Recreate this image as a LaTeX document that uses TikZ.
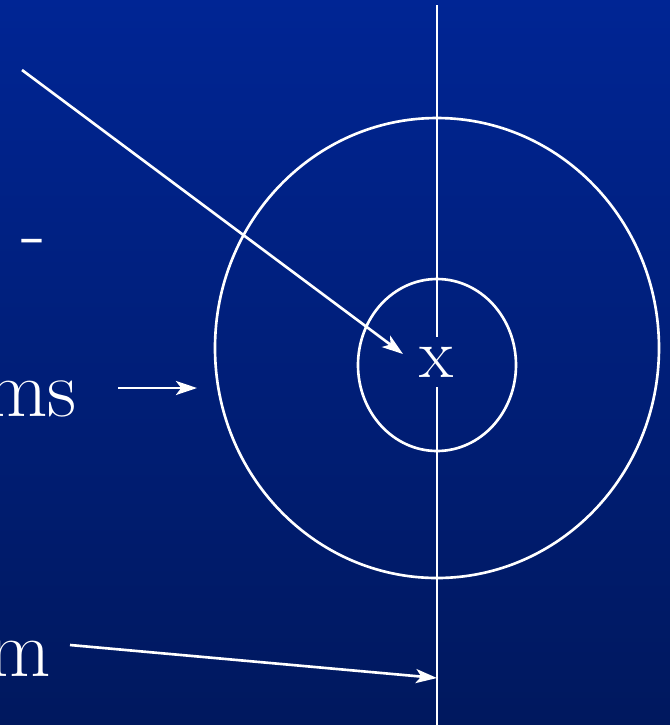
\documentclass[tikz,border=0pt]{standalone}
\usepackage{tikz}
\usetikzlibrary{positioning, arrows.meta}
\definecolor{bgtop}{RGB}{0,37,148}
\definecolor{bgbot}{RGB}{0,24,94}

\begin{document}
\begin{tikzpicture}[
    x=0.02cm, y=-0.02cm,
    line width=1.5pt, white,
    every node/.style={text=white, font=\fontsize{46}{55}\selectfont, inner sep=0pt},
    >={Stealth[length=12pt, width=8pt, inset=3pt]}
]
\useasboundingbox (0,0) rectangle (670,725);
\shade[top color=bgtop, bottom color=bgbot] (0,0) rectangle (670,725);
% left labels, cut off by the page edge
\node (dash) [anchor=base east] at (47,258) {o -};
\node (ms) [anchor=base east] at (78,416) {ms};
\node (m) [anchor=base east] at (52,676) {m};
% centre point and the two rings
\node (cx) [font=\fontsize{40}{48}\selectfont, minimum height=0.96cm] at (437,362) {x};
\draw (437,348) ellipse [x radius=222, y radius=230];
\draw (437,365) ellipse [x radius=79, y radius=86];
% axis through the centre
\coordinate (top) at (437,5);
\coordinate (bottom) at (437,725);
\draw (top) -- (cx.north);
\draw (cx.south) -- (bottom);
% pointers
\coordinate (a1) at (22,70);
\coordinate (b1) at (403,354);
\coordinate (a2) at (118,388);
\coordinate (b2) at (197,388);
\coordinate (a3) at (70,645);
\coordinate (b3) at (437,678);
\draw[->] (a1) -- (b1);
\draw[->] (a2) -- (b2);
\draw[->] (a3) -- (b3);
\end{tikzpicture}
\end{document}
